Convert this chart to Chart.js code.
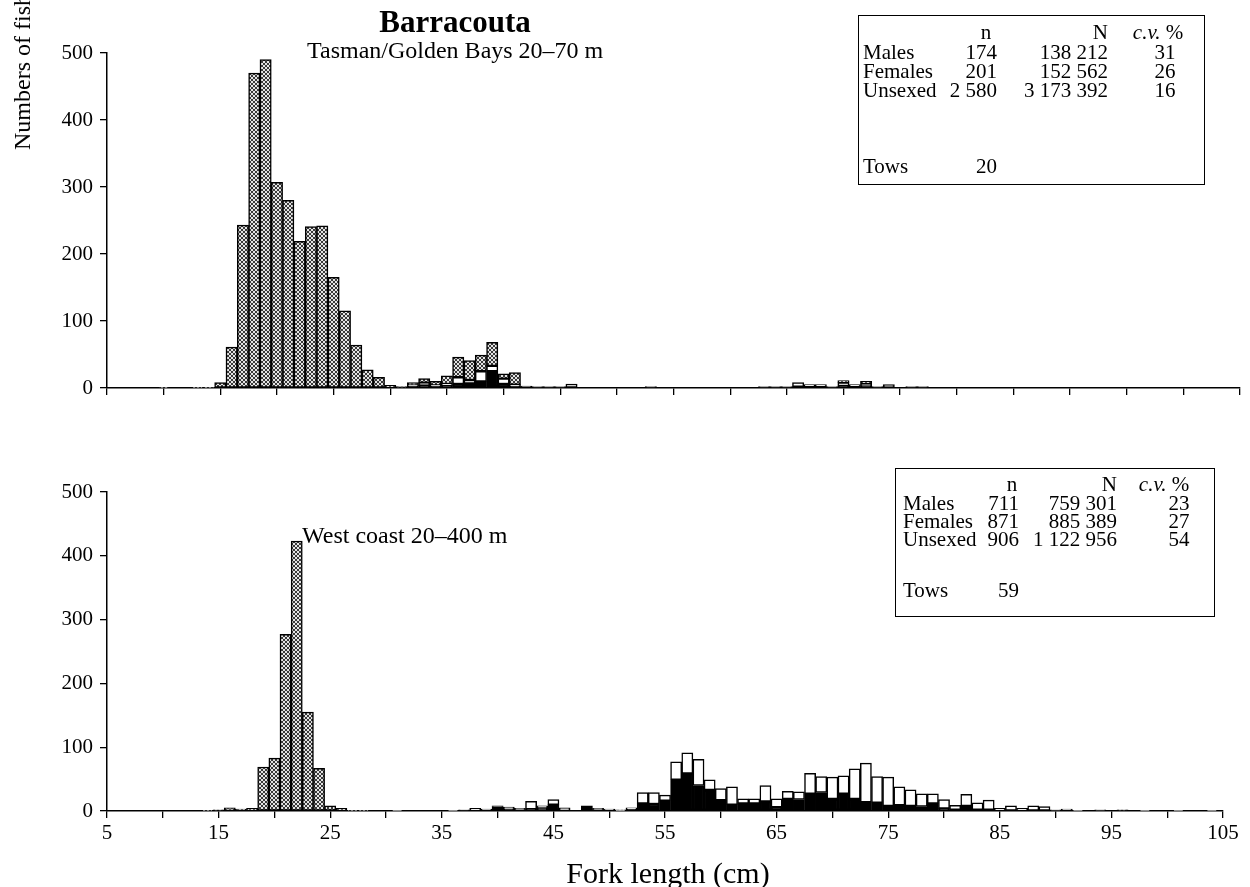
<!DOCTYPE html>
<html>
<head>
<meta charset="utf-8">
<script src="https://cdn.jsdelivr.net/npm/chart.js@4.4.1/dist/chart.umd.min.js"></script>
<style>
  html, body { margin: 0; padding: 0; background: #fff; }
  body { width: 1250px; height: 887px; position: relative; overflow: hidden;
         font-family: "Liberation Serif", "Times New Roman", serif; color: #000; }
  .panel { position: absolute; left: 0; width: 1250px; }
  .txt { position: absolute; white-space: nowrap; line-height: 1; }
  .box { position: absolute; border: 1.3px solid #000; }
</style>
</head>
<body>
<div class="panel" style="top:0;height:420px"><canvas id="tasman"></canvas></div>
<div class="panel" style="top:440px;height:447px"><canvas id="westcoast"></canvas></div>

<div class="txt" style="left:455px;top:6px;transform:translateX(-50%);font-size:31px;font-weight:bold">Barracouta</div>
<div class="txt" style="left:307px;top:38px;font-size:24px">Tasman/Golden Bays 20–70 m</div>
<div class="txt" style="left:302px;top:523px;font-size:24px">West coast 20–400 m</div>
<div class="txt" style="left:668px;top:858px;transform:translateX(-50%);font-size:30px">Fork length (cm)</div>
<div class="txt" style="left:22px;top:72px;transform:translate(-50%,-50%) rotate(-90deg);font-size:24px">Numbers of fish</div>

<script>
// fork length bins (cm), 5 to 104
const lengths = [
  5, 6, 7, 8, 9, 10, 11, 12, 13, 14,
  15, 16, 17, 18, 19, 20, 21, 22, 23, 24,
  25, 26, 27, 28, 29, 30, 31, 32, 33, 34,
  35, 36, 37, 38, 39, 40, 41, 42, 43, 44,
  45, 46, 47, 48, 49, 50, 51, 52, 53, 54,
  55, 56, 57, 58, 59, 60, 61, 62, 63, 64,
  65, 66, 67, 68, 69, 70, 71, 72, 73, 74,
  75, 76, 77, 78, 79, 80, 81, 82, 83, 84,
  85, 86, 87, 88, 89, 90, 91, 92, 93, 94,
  95, 96, 97, 98, 99, 100, 101, 102, 103, 104
];

// Tasman/Golden Bays 20-70 m
const tasmanMales = [
  0, 0, 0, 0, 0, 0, 0, 0, 0, 0,
  0, 0, 0, 0, 0, 0, 0, 0, 0, 0,
  0, 0, 0, 0, 0, 0, 0, 3, 4, 3,
  4, 6, 7, 10, 25, 6, 3, 2, 1, 1,
  1, 1, 1, 0, 0, 0, 0, 1, 1, 0,
  1, 0, 0, 0, 0, 0, 1, 1, 1, 1,
  1, 2, 2, 2, 1, 3, 2, 3, 1, 1,
  1, 1, 1, 0, 0, 1, 1, 1, 0, 0,
  0, 0, 1, 0, 0, 0, 0, 0, 0, 0,
  0, 0, 0, 0, 0, 0, 0, 0, 0, 0
];
const tasmanFemales = [
  0, 0, 0, 0, 0, 0, 0, 0, 0, 0,
  0, 0, 0, 0, 0, 0, 0, 0, 0, 0,
  0, 0, 0, 0, 0, 0, 0, 1, 4, 1,
  2, 10, 5, 15, 8, 8, 2, 1, 1, 1,
  1, 5, 0, 0, 0, 0, 0, 0, 1, 0,
  0, 0, 0, 0, 0, 0, 0, 0, 1, 1,
  1, 6, 3, 3, 1, 5, 3, 3, 1, 4,
  0, 1, 1, 0, 0, 0, 0, 0, 0, 0,
  0, 0, 0, 0, 0, 0, 0, 0, 0, 0,
  0, 0, 0, 0, 0, 0, 0, 0, 0, 0
];
const tasmanUnsexed = [
  0, 0, 0, 0, 0, 1, 0, 0, 1, 1,
  8, 61, 243, 470, 490, 307, 280, 219, 241, 242,
  165, 115, 64, 27, 16, 4, 2, 4, 6, 6,
  12, 30, 29, 24, 35, 7, 18, 0, 0, 0,
  0, 0, 0, 0, 0, 0, 0, 0, 0, 0,
  0, 0, 0, 0, 0, 0, 0, 0, 0, 0,
  0, 0, 0, 0, 0, 3, 0, 4, 0, 0,
  0, 0, 0, 0, 0, 0, 0, 0, 0, 0,
  0, 0, 0, 0, 0, 0, 0, 0, 0, 0,
  0, 0, 0, 0, 0, 0, 0, 0, 0, 0
];

// West coast 20-400 m
const westMales = [
  0, 0, 0, 0, 0, 0, 0, 0, 0, 0,
  0, 0, 0, 0, 0, 0, 0, 0, 0, 0,
  0, 0, 0, 0, 0, 0, 0, 0, 0, 1,
  0, 0, 1, 1, 2, 7, 3, 2, 3, 5,
  10, 0, 1, 8, 2, 1, 0, 3, 12, 11,
  16, 49, 59, 40, 33, 17, 10, 12, 12, 15,
  6, 19, 18, 27, 29, 19, 27, 19, 14, 13,
  8, 9, 8, 7, 12, 4, 2, 8, 2, 2,
  1, 1, 1, 1, 1, 0, 0, 0, 0, 0,
  0, 0, 0, 0, 0, 0, 0, 0, 0, 0
];
const westFemales = [
  0, 0, 0, 0, 0, 0, 0, 0, 0, 0,
  0, 0, 0, 0, 0, 0, 0, 0, 0, 0,
  0, 0, 0, 0, 0, 0, 1, 0, 0, 0,
  0, 1, 1, 3, 1, 1, 3, 2, 12, 3,
  8, 5, 0, 0, 2, 2, 1, 2, 17, 18,
  9, 28, 32, 41, 16, 18, 28, 7, 7, 25,
  13, 12, 12, 32, 25, 34, 28, 47, 61, 41,
  45, 29, 25, 20, 15, 14, 7, 18, 11, 15,
  3, 7, 3, 7, 6, 2, 3, 1, 0, 2,
  0, 0, 0, 1, 0, 0, 1, 0, 0, 1
];
const westUnsexed = [
  0, 0, 0, 0, 0, 0, 0, 0, 0, 1,
  2, 5, 3, 4, 69, 83, 277, 423, 155, 67,
  8, 4, 1, 1, 0, 0, 0, 0, 0, 0,
  0, 0, 0, 0, 0, 0, 0, 0, 0, 0,
  0, 0, 0, 0, 0, 0, 1, 0, 0, 0,
  0, 0, 0, 0, 0, 0, 0, 0, 0, 0,
  0, 0, 0, 0, 0, 0, 0, 0, 0, 0,
  0, 0, 0, 0, 0, 0, 0, 0, 0, 0,
  0, 0, 0, 0, 0, 0, 0, 0, 0, 0,
  0, 2, 0, 0, 0, 0, 0, 0, 0, 0
];

const yTicks = [0, 100, 200, 300, 400, 500];
const xTickLabels = [5, 15, 25, 35, 45, 55, 65, 75, 85, 95, 105];

// summary tables
const rowNames = ["Males", "Females", "Unsexed"];
const tasmanN = ["174", "201", "2 580"];
const tasmanBigN = ["138 212", "152 562", "3 173 392"];
const tasmanCV = ["31", "26", "16"];
const tasmanTows = "20";
const westN = ["711", "871", "906"];
const westBigN = ["759 301", "885 389", "1 122 956"];
const westCV = ["23", "27", "54"];
const westTows = "59";

// grey cross-hatch for unsexed fish
function hatch() {
  const c = document.createElement("canvas");
  c.width = 4; c.height = 4;
  const g = c.getContext("2d");
  g.fillStyle = "#e4e4e4";
  g.fillRect(0, 0, 4, 4);
  g.fillStyle = "#3a3a3a";
  for (let i = 0; i < 4; i++) {
    g.fillRect(i, i, 1, 1);
    g.fillRect(3 - i, i, 1, 1);
  }
  return g.createPattern(c, "repeat");
}

function pts(vals) {
  return vals.map((v, i) => ({ x: lengths[i], y: v }));
}

function makeChart(id, males, females, unsexed, opts) {
  const ctx = document.getElementById(id).getContext("2d");
  const common = { borderColor: "#000", borderWidth: 1.5, borderSkipped: false,
                   barPercentage: 1, categoryPercentage: 1 };
  return new Chart(ctx, {
    type: "bar",
    data: {
      datasets: [
        Object.assign({ label: "Males", data: pts(males), backgroundColor: "#000" }, common),
        Object.assign({ label: "Females", data: pts(females), backgroundColor: "#fff" }, common),
        Object.assign({ label: "Unsexed", data: pts(unsexed), backgroundColor: hatch() }, common),
      ],
    },
    options: {
      responsive: true,
      maintainAspectRatio: false,
      animation: false,
      layout: { padding: { top: opts.padTop, right: opts.padRight, left: 0, bottom: 0 } },
      plugins: { legend: { display: false }, tooltip: { enabled: false } },
      scales: {
        x: {
          type: "linear",
          stacked: true,
          offset: false,
          min: 5,
          max: 105,
          afterBuildTicks: s => {
            const t = [];
            for (let v = 5; v <= 105; v += 5) t.push({ value: v });
            s.ticks = t;
          },
          afterFit: s => { s.height = opts.xHeight; },
          ticks: {
            autoSkip: false,
            maxRotation: 0,
            padding: 3,
            color: "#000",
            font: { family: "Liberation Serif", size: 21 },
            callback: v => (opts.xLabels && xTickLabels.includes(v)) ? String(v) : "",
          },
          grid: { offset: false, drawOnChartArea: false, drawTicks: true, tickLength: 7, color: "#000", lineWidth: 1.3 },
          border: { display: true, color: "#000", width: 1.5 },
        },
        y: {
          stacked: true,
          min: 0,
          max: 500,
          afterBuildTicks: s => { s.ticks = yTicks.map(v => ({ value: v })); },
          afterFit: s => { s.width = 107; },
          ticks: {
            padding: 7,
            color: "#000",
            font: { family: "Liberation Serif", size: 21 },
          },
          grid: { drawOnChartArea: false, drawTicks: true, tickLength: 7, color: "#000", lineWidth: 1.3 },
          border: { display: true, color: "#000", width: 1.5 },
        },
      },
    },
  });
}

makeChart("tasman", tasmanMales, tasmanFemales, tasmanUnsexed,
  { padTop: 53, padRight: 10, xHeight: 32, xLabels: false });
makeChart("westcoast", westMales, westFemales, westUnsexed,
  { padTop: 52, padRight: 27, xHeight: 76, xLabels: true });

function txt(x, y, s, align, size, italic) {
  const d = document.createElement("div");
  d.className = "txt";
  d.style.fontSize = size + "px";
  d.style.top = (y - size / 2) + "px";
  if (align === "left") d.style.left = x + "px";
  else if (align === "right") d.style.right = (1250 - x) + "px";
  else { d.style.left = x + "px"; d.style.transform = "translateX(-50%)"; }
  if (italic) d.innerHTML = s; else d.textContent = s;
  document.body.appendChild(d);
}

function table(t) {
  const b = document.createElement("div");
  b.className = "box";
  b.style.left = t.left + "px"; b.style.top = t.top + "px";
  b.style.width = t.w + "px"; b.style.height = t.h + "px";
  document.body.appendChild(b);
  const fs = 21;
  txt(t.nHead, t.rows[0], "n", "center", fs);
  txt(t.bigNRight, t.rows[0], "N", "right", fs);
  txt(t.cvHead, t.rows[0], "<i>c.v.</i> %", "center", fs, true);
  rowNames.forEach((r, i) => {
    const y = t.rows[i + 1];
    txt(t.labelLeft, y, r, "left", fs);
    txt(t.nRight, y, t.n[i], "right", fs);
    txt(t.bigNRight, y, t.bigN[i], "right", fs);
    txt(t.cvCenter, y, t.cv[i], "center", fs);
  });
  txt(t.labelLeft, t.rows[4], "Tows", "left", fs);
  txt(t.nRight, t.rows[4], t.tows, "right", fs);
}

table({ left: 858, top: 15, w: 345, h: 168, rows: [32, 52, 71, 90, 166],
  labelLeft: 863, nHead: 986, nRight: 997, bigNRight: 1108, cvHead: 1158, cvCenter: 1165,
  n: tasmanN, bigN: tasmanBigN, cv: tasmanCV, tows: tasmanTows });
table({ left: 895, top: 468, w: 318, h: 147, rows: [484, 503, 521, 539, 590],
  labelLeft: 903, nHead: 1012, nRight: 1019, bigNRight: 1117, cvHead: 1164, cvCenter: 1179,
  n: westN, bigN: westBigN, cv: westCV, tows: westTows });
</script>
</body>
</html>
